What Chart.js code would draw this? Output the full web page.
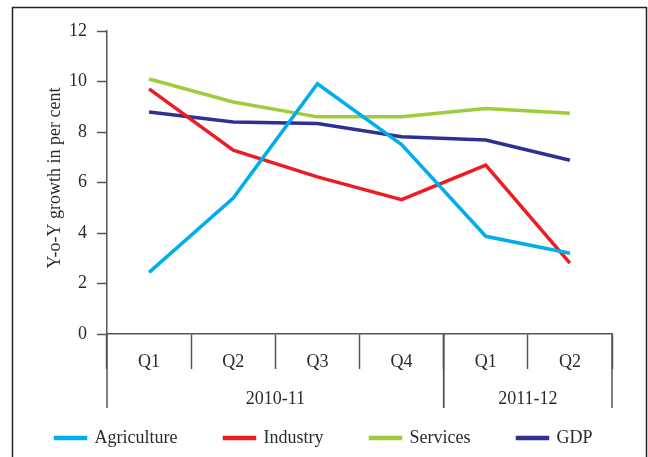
<!DOCTYPE html>
<html>
<head>
<meta charset="utf-8">
<script src="https://cdn.jsdelivr.net/npm/chart.js@4"></script>
<style>
  body { margin: 0; background: #fff; }
  #wrap { width: 648px; height: 457px; position: relative; }
</style>
</head>
<body>
<div id="wrap"><canvas id="chart" width="648" height="457"></canvas></div>
<script>
const quarters = ["Q1", "Q2", "Q3", "Q4", "Q1", "Q2"];
const years = [
  { label: "2010-11", from: 0, to: 3 },
  { label: "2011-12", from: 4, to: 5 }
];
const agriculture = [2.44, 5.38, 9.91, 7.5, 3.87, 3.2];
const industry = [9.71, 7.28, 6.22, 5.32, 6.69, 2.81];
const services = [10.1, 9.19, 8.6, 8.6, 8.93, 8.74];
const gdp = [8.79, 8.4, 8.34, 7.81, 7.68, 6.88];

const FONT = "'Liberation Serif', 'Times New Roman', serif";
const TEXT = "#2b2b2b";
const AXIS = "#555";

// frame, y title, year groups under the quarters
const extras = {
  id: "extras",
  beforeDraw(chart) {
    const c = chart.ctx;
    c.save();
    c.strokeStyle = "#222";
    c.lineWidth = 1.5;
    c.strokeRect(12.5, 7.5, 634, 470);
    c.restore();
  },
  afterDraw(chart) {
    const c = chart.ctx;
    const x = chart.scales.x;
    const y = chart.scales.y;
    const step = x.getPixelForTick(1) - x.getPixelForTick(0);
    c.save();
    c.fillStyle = TEXT;
    c.font = "18px " + FONT;
    c.translate(55, 178);
    c.rotate(-Math.PI / 2);
    c.textAlign = "center";
    c.textBaseline = "middle";
    c.fillText("Y-o-Y growth in per cent", 0, 0);
    c.restore();

    c.save();
    c.strokeStyle = AXIS;
    c.lineWidth = 1.5;
    c.fillStyle = TEXT;
    c.font = "18px " + FONT;
    c.textAlign = "center";
    c.textBaseline = "middle";
    const base = y.getPixelForValue(0);
    years.forEach(g => {
      const l = x.getPixelForTick(g.from) - step / 2;
      const r = x.getPixelForTick(g.to) + step / 2;
      [l, r].forEach(px => {
        c.beginPath();
        c.moveTo(px, base);
        c.lineTo(px, base + 74);
        c.stroke();
      });
      c.fillText(g.label, (l + r) / 2, base + 65);
    });
    c.restore();
  }
};

const series = [
  { label: "Agriculture", data: agriculture, color: "#00aeef" },
  { label: "Industry", data: industry, color: "#ed1c24" },
  { label: "Services", data: services, color: "#9fcc3b" },
  { label: "GDP", data: gdp, color: "#2e3192" }
];

new Chart(document.getElementById("chart"), {
  type: "line",
  data: {
    labels: quarters,
    datasets: series.map(s => ({
      label: s.label,
      data: s.data,
      borderColor: s.color,
      backgroundColor: s.color,
      borderWidth: 3.5,
      pointRadius: 0,
      tension: 0,
      fill: false
    }))
  },
  options: {
    responsive: false,
    animation: false,
    layout: { padding: { top: 31, right: 0, left: 0, bottom: 0 } },
    plugins: {
      tooltip: { enabled: false },
      legend: {
        position: "bottom",
        labels: {
          boxWidth: 30,
          boxHeight: 1,
          padding: 47,
          color: TEXT,
          font: { family: FONT, size: 18 }
        }
      }
    },
    scales: {
      x: {
        offset: true,
        grid: {
          offset: true,
          drawOnChartArea: false,
          tickLength: 35,
          tickColor: AXIS,
          tickWidth: 1.5
        },
        border: { color: AXIS, width: 1.5 },
        ticks: {
          padding: -18,
          color: TEXT,
          font: { family: FONT, size: 18 },
          maxRotation: 0
        },
        afterFit: s => { s.height = 48; }
      },
      y: {
        min: 0,
        max: 12,
        grid: {
          drawOnChartArea: false,
          tickLength: 10,
          tickColor: AXIS,
          tickWidth: 1.5
        },
        border: { color: AXIS, width: 1.5 },
        ticks: {
          stepSize: 2,
          padding: 10,
          color: TEXT,
          font: { family: FONT, size: 18 }
        },
        afterFit: s => { s.width = 107; }
      },
      // empty spacer on the right so the legend can use the full width
      spacer: {
        type: "linear",
        position: "right",
        grid: { display: false },
        border: { display: false },
        ticks: { display: false },
        afterFit: s => { s.width = 36; }
      }
    }
  },
  plugins: [extras]
});
</script>
</body>
</html>
